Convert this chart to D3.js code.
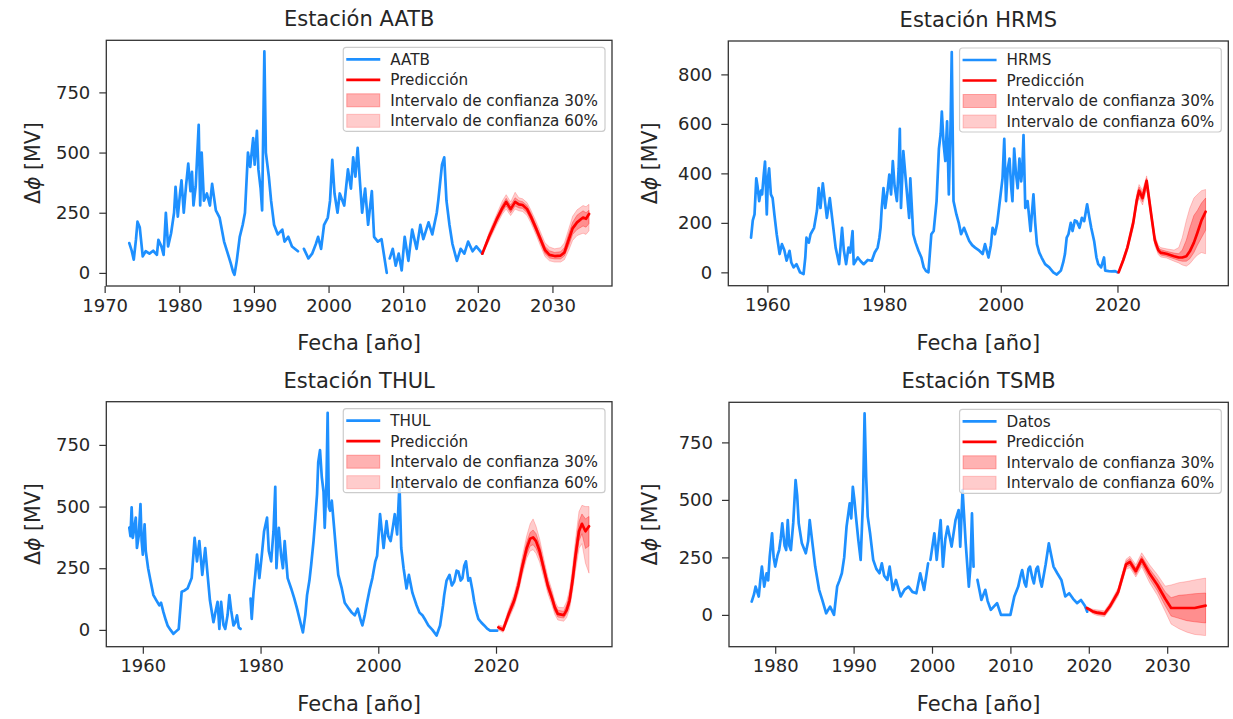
<!DOCTYPE html>
<html>
<head>
<meta charset="utf-8">
<script src="https://cdn.jsdelivr.net/npm/d3@7"></script>
<style>
  body { margin: 0; background: #fff; }
  svg { font-family: "DejaVu Sans", sans-serif; }
</style>
</head>
<body>
<svg id="chart" width="1233" height="719"></svg>
<script>
// observed series: [year, Δφ MV], null value = gap in the record
const aatbObs = [
  [1973.3,124],[1973.6,95],[1973.9,55],[1974.2,140],[1974.4,213],[1974.7,190],[1975.1,69],[1975.5,90],
  [1976.0,80],[1976.5,92],[1977.0,75],[1977.2,137],[1977.6,110],[1977.9,75],[1978.2,250],[1978.5,110],
  [1978.9,165],[1979.3,250],[1979.5,358],[1979.8,234],[1980.1,330],[1980.3,385],[1980.6,250],[1980.9,360],
  [1981.2,454],[1981.5,340],[1981.7,420],[1981.9,280],[1982.2,360],[1982.6,615],[1982.8,280],[1983.0,500],
  [1983.3,300],[1983.7,330],[1984.1,280],[1984.4,370],[1984.9,260],[1985.4,230],[1986.0,130],[1986.5,80],
  [1986.9,40],[1987.2,5],[1987.4,-8],[1987.7,50],[1988.1,150],[1988.5,200],[1988.8,250],[1989.2,500],
  [1989.5,440],[1989.9,560],[1990.1,450],[1990.4,590],[1990.6,430],[1990.9,350],[1991.1,260],[1991.3,700],
  [1991.4,920],[1991.6,500],[1992.0,400],[1992.3,300],[1992.7,200],[1993.2,160],[1993.8,180],[1994.1,130],
  [1994.6,150],[1995.1,110],[1995.9,90],[1996.3,null],[1996.7,100],[1997.0,80],[1997.3,60],[1997.8,80],
  [1998.3,120],[1998.6,150],[1999.0,100],[1999.4,200],[1999.9,230],[2000.2,300],[2000.5,470],[2000.8,330],
  [2001.2,250],[2001.5,330],[2002.1,280],[2002.6,430],[2003.0,350],[2003.3,480],[2003.6,400],[2003.9,520],
  [2004.2,380],[2004.5,250],[2004.9,350],[2005.3,200],[2005.8,340],[2006.1,150],[2006.6,130],[2007.1,140],
  [2007.5,60],[2007.8,0],[2008.0,null],[2008.2,60],[2008.6,100],[2009.0,30],[2009.4,80],[2009.8,10],
  [2010.2,150],[2010.7,50],[2011.2,180],[2011.8,100],[2012.3,200],[2012.7,140],[2013.4,210],[2013.9,160],
  [2014.5,250],[2014.7,300],[2015.2,450],[2015.5,480],[2015.8,300],[2016.2,200],[2016.6,120],[2017.2,50],
  [2017.7,100],[2018.2,80],[2018.7,130],[2019.3,90],[2019.8,110],[2020.6,80]
];
const hrmsObs = [
  [1957.2,140],[1957.5,210],[1957.8,234],[1958.1,380],[1958.3,350],[1958.6,288],[1958.9,330],[1959.1,315],
  [1959.4,400],[1959.6,448],[1959.9,234],[1960.1,380],[1960.3,420],[1960.6,315],[1960.9,300],[1961.2,234],
  [1961.6,154],[1962.1,74],[1962.5,114],[1962.9,90],[1963.3,47],[1963.8,87],[1964.1,40],[1964.5,20],
  [1965.0,33],[1965.6,0],[1966.2,-7],[1966.5,60],[1966.7,140],[1967.1,120],[1967.4,154],[1968.0,180],
  [1968.5,250],[1968.8,340],[1969.1,260],[1969.5,360],[1969.8,300],[1970.2,220],[1970.7,300],[1971.1,220],
  [1971.7,100],[1972.3,33],[1972.6,120],[1972.8,180],[1973.1,90],[1973.5,33],[1973.9,100],[1974.2,80],
  [1974.6,167],[1974.8,33],[1975.5,60],[1976.0,45],[1976.5,33],[1977.2,50],[1977.9,47],[1978.4,80],
  [1978.9,100],[1979.2,140],[1979.4,180],[1979.6,260],[1979.9,340],[1980.2,260],[1980.6,330],[1980.9,395],
  [1981.2,315],[1981.5,450],[1981.8,350],[1982.2,288],[1982.5,420],[1982.7,580],[1982.9,260],[1983.3,490],
  [1983.7,380],[1984.0,300],[1984.3,220],[1984.5,380],[1985.0,154],[1985.4,120],[1985.9,87],[1986.4,60],
  [1986.8,20],[1987.2,5],[1987.6,0],[1988.1,154],[1988.5,167],[1989.0,288],[1989.4,500],[1989.7,560],
  [1989.9,650],[1990.2,520],[1990.5,450],[1990.8,610],[1991.1,315],[1991.4,600],[1991.6,890],[1991.9,288],
  [1992.4,234],[1992.8,200],[1993.2,154],[1993.7,180],[1994.2,150],[1994.6,127],[1995.1,110],[1995.6,100],
  [1996.2,90],[1996.9,74],[1997.3,114],[1997.9,60],[1998.3,110],[1998.6,180],[1999.0,154],[1999.4,200],
  [1999.7,260],[2000.3,380],[2000.6,540],[2000.9,288],[2001.2,420],[2001.5,460],[2001.8,340],[2002.0,288],
  [2002.3,500],[2002.6,400],[2002.9,340],[2003.2,460],[2003.5,368],[2003.7,420],[2003.9,555],[2004.2,260],
  [2004.6,288],[2005.1,167],[2005.6,315],[2005.9,200],[2006.2,114],[2006.6,80],[2007.0,60],[2007.6,33],
  [2008.3,20],[2009.0,0],[2009.6,-9],[2010.3,7],[2010.7,40],[2011.0,74],[2011.3,140],[2011.6,154],
  [2012.0,200],[2012.3,167],[2012.7,210],[2013.0,207],[2013.5,180],[2013.9,220],[2014.3,207],[2014.8,275],
  [2015.2,220],[2015.5,180],[2016.0,127],[2016.4,60],[2016.7,33],[2017.2,20],[2017.7,60],[2017.9,7],
  [2018.5,5],[2019.0,4],[2019.6,5],[2020.0,0]
];
const thulObs = [
  [1957.7,415],[1957.9,380],[1958.1,497],[1958.3,373],[1958.6,420],[1958.8,455],[1959.0,332],[1959.3,380],
  [1959.6,510],[1959.8,360],[1960.0,305],[1960.3,428],[1960.5,320],[1960.9,250],[1961.3,200],[1961.8,141],
  [1962.3,120],[1962.8,100],[1963.1,110],[1963.5,72],[1963.9,40],[1964.2,18],[1964.7,0],[1965.2,-16],
  [1965.7,-5],[1966.1,4],[1966.6,155],[1967.1,160],[1967.6,168],[1968.3,210],[1968.8,373],[1969.2,278],
  [1969.6,360],[1970.1,223],[1970.6,332],[1970.9,250],[1971.4,120],[1972.0,31],[1972.4,80],[1972.7,114],
  [1973.0,4],[1973.3,114],[1973.7,20],[1974.0,4],[1974.4,60],[1974.7,141],[1975.0,80],[1975.4,18],
  [1975.7,30],[1976.0,59],[1976.3,10],[1976.6,4],[1977.5,null],[1978.3,127],[1978.5,45],[1978.8,150],
  [1979.1,223],[1979.4,305],[1979.8,210],[1980.2,300],[1980.6,400],[1981.1,455],[1981.4,320],[1981.8,278],
  [1982.2,400],[1982.5,580],[1982.7,250],[1983.1,414],[1983.5,300],[1983.8,250],[1984.1,360],[1984.6,210],
  [1985.2,168],[1985.7,130],[1986.2,86],[1986.9,18],[1987.2,-10],[1987.6,60],[1987.9,141],[1988.3,200],
  [1988.6,264],[1989.0,360],[1989.3,450],[1989.6,551],[1989.8,680],[1990.1,729],[1990.4,620],[1990.7,560],
  [1990.9,414],[1991.2,600],[1991.4,880],[1991.6,500],[1991.8,483],[1992.1,524],[1992.5,414],[1992.9,300],
  [1993.2,223],[1993.8,168],[1994.3,110],[1995.0,86],[1995.5,70],[1996.0,59],[1996.5,86],[1997.0,40],
  [1997.3,18],[1997.7,60],[1998.0,100],[1998.5,160],[1999.0,210],[1999.5,278],[1999.8,300],[2000.3,469],
  [2000.6,400],[2000.9,332],[2001.4,441],[2001.7,380],[2002.1,360],[2002.5,420],[2002.8,469],[2003.2,387],
  [2003.6,592],[2003.9,332],[2004.3,250],[2004.8,168],[2005.2,223],[2005.8,150],[2006.5,100],[2007.0,70],
  [2007.5,59],[2008.0,40],[2008.5,18],[2009.2,0],[2009.9,-23],[2010.5,18],[2011.0,100],[2011.2,141],
  [2011.6,200],[2012.1,223],[2012.5,180],[2012.9,196],[2013.3,240],[2013.6,237],[2014.0,200],[2014.3,210],
  [2014.6,260],[2014.9,278],[2015.3,200],[2015.6,210],[2016.0,160],[2016.3,114],[2016.7,70],[2017.0,45],
  [2017.5,30],[2018.0,18],[2018.5,5],[2019.0,-3],[2019.6,-3],[2020.2,-3]
];
const tsmbObs = [
  [1977.0,58],[1977.3,90],[1977.5,123],[1977.9,80],[1978.1,150],[1978.3,210],[1978.6,123],[1978.9,181],
  [1979.1,150],[1979.3,253],[1979.6,355],[1979.8,250],[1980.0,210],[1980.3,260],[1980.5,282],[1980.7,330],
  [1980.9,398],[1981.2,300],[1981.4,282],[1981.6,412],[1981.8,300],[1982.0,282],[1982.3,400],[1982.6,586],
  [1982.8,520],[1983.0,398],[1983.4,311],[1983.9,268],[1984.2,320],[1984.4,412],[1984.8,297],[1985.1,210],
  [1985.6,109],[1986.0,65],[1986.5,7],[1987.0,36],[1987.5,0],[1987.9,123],[1988.2,150],[1988.5,181],
  [1988.8,250],[1989.1,384],[1989.5,485],[1989.7,420],[1989.9,557],[1990.1,500],[1990.3,427],[1990.6,326],
  [1990.9,239],[1991.2,500],[1991.4,876],[1991.6,600],[1991.8,427],[1992.1,355],[1992.5,239],[1992.9,200],
  [1993.3,181],[1993.6,224],[1993.9,170],[1994.3,152],[1994.6,210],[1995.0,109],[1995.4,152],[1996.0,80],
  [1996.5,110],[1997.0,123],[1997.5,100],[1998.0,94],[1998.5,181],[1999.0,109],[1999.5,224],[1999.65,null],
  [1999.8,239],[2000.3,355],[2000.6,239],[2001.1,412],[2001.4,210],[2001.7,330],[2002.0,384],[2002.5,297],
  [2003.0,412],[2003.4,456],[2003.6,297],[2003.9,543],[2004.3,311],[2004.7,123],[2004.9,210],[2005.1,441],
  [2005.3,210],[2005.55,null],[2005.8,152],[2006.3,65],[2006.8,109],[2007.1,60],[2007.5,22],[2008.0,40],
  [2008.3,51],[2008.8,0],[2009.5,0],[2010.0,0],[2010.5,80],[2011.0,123],[2011.3,170],[2011.5,195],
  [2011.8,140],[2012.0,123],[2012.3,200],[2012.5,210],[2012.8,160],[2013.0,137],[2013.3,200],[2013.5,210],
  [2013.8,150],[2014.0,123],[2014.5,220],[2014.9,311],[2015.2,260],[2015.5,210],[2016.0,180],[2016.5,152],
  [2017.0,80],[2017.5,94],[2018.0,70],[2018.5,51],[2019.0,65],[2019.5,40],[2019.8,14]
];

// prediction: [year, mean, low30, high30, low60, high60]
const aatbPred = [
  [2020.6,80,78,82,75,85],[2021.5,150,140,160,132,168],[2022.5,220,208,232,198,242],
  [2023.3,270,255,285,245,300],[2023.8,295,278,310,265,325],[2024.4,265,250,282,238,295],
  [2025.0,295,278,312,265,335],[2025.5,285,270,300,258,312],[2026.0,282,268,296,255,308],
  [2026.6,265,250,280,238,292],[2027.1,235,220,250,208,262],[2027.8,185,170,200,158,215],
  [2028.4,140,125,155,112,170],[2029.0,95,80,110,68,125],[2029.6,75,62,92,50,108],
  [2030.3,70,58,85,45,100],[2031.1,72,58,88,45,105],[2031.6,85,70,105,55,125],
  [2032.2,140,115,165,95,185],[2032.7,185,160,210,135,235],[2033.3,210,180,240,155,262],
  [2034.1,230,195,258,165,280],[2034.5,225,190,250,160,275],[2034.9,245,205,260,175,285]
];
const hrmsPred = [
  [2020.2,0,-2,2,-4,5],[2021.0,50,44,56,38,62],[2021.7,100,92,108,85,115],
  [2022.7,200,188,212,178,222],[2023.3,290,275,305,265,318],[2023.7,330,312,345,300,355],
  [2024.3,300,285,320,272,332],[2025.0,370,350,380,335,390],[2025.4,300,285,315,272,328],
  [2025.8,230,215,245,205,258],[2026.4,130,118,142,108,152],[2027.0,90,80,100,72,110],
  [2027.4,80,70,92,62,100],[2028.4,75,65,85,58,95],[2029.7,65,55,78,45,90],
  [2030.5,60,48,75,38,100],[2031.1,60,45,90,30,140],[2031.8,65,45,130,25,210],
  [2032.4,85,55,180,35,260],[2033.1,120,80,230,55,300],[2033.7,160,110,250,70,315],
  [2034.4,210,140,280,80,330],[2035.1,245,170,300,75,335]
];
const thulPred = [
  [2020.4,10,5,15,0,20],[2021.2,0,-5,8,-10,15],[2022.1,60,50,72,40,82],
  [2023.1,120,105,135,95,148],[2023.8,180,165,200,150,215],[2024.4,250,230,272,215,290],
  [2025.2,330,305,355,290,380],[2025.8,370,340,395,320,430],[2026.3,375,345,405,325,450],
  [2026.8,360,330,390,310,420],[2027.4,320,295,345,275,370],[2028.1,250,230,270,212,290],
  [2028.8,180,162,200,148,215],[2029.5,130,115,148,100,162],[2030.0,90,75,105,62,118],
  [2030.5,65,52,80,40,92],[2031.5,60,48,75,35,90],[2032.0,80,65,100,50,115],
  [2032.5,120,100,145,85,165],[2033.0,200,175,230,155,255],[2033.5,300,265,335,240,365],
  [2034.1,400,360,440,330,480],[2034.6,430,390,470,350,505],[2035.2,400,330,450,270,500],
  [2035.8,420,340,460,230,500]
];
const tsmbPred = [
  [2019.75,30,28,32,26,34],[2020.5,15,10,20,5,25],[2021.0,10,4,16,-2,22],
  [2022.0,5,-2,12,-8,18],[2022.75,40,32,48,25,55],[2023.75,100,90,110,82,118],
  [2024.75,220,208,232,198,242],[2025.25,230,215,245,205,255],[2026.0,190,175,205,165,218],
  [2026.75,240,222,255,210,270],[2027.75,180,158,200,140,218],[2028.75,130,105,155,85,175],
  [2029.75,70,40,100,15,125],[2030.5,30,-5,75,-40,130],[2031.5,30,-15,85,-60,140],
  [2032.5,30,-25,88,-75,145],[2033.5,30,-30,92,-85,152],[2034.9,40,-35,95,-90,160]
];

const stations = ["AATB", "HRMS", "THUL", "TSMB"];
const dataLabels = ["AATB", "HRMS", "THUL", "Datos"];
const legendLabels = ["Predicción", "Intervalo de confianza 30%", "Intervalo de confianza 60%"];
const xTickSets = [
  [1970, 1980, 1990, 2000, 2010, 2020, 2030],
  [1960, 1980, 2000, 2020],
  [1960, 1980, 2000, 2020],
  [1980, 1990, 2000, 2010, 2020, 2030]
];
const yTickSets = [
  [0, 250, 500, 750],
  [0, 200, 400, 600, 800],
  [0, 250, 500, 750],
  [0, 250, 500, 750]
];

// layout (pixel frames of each axes box)
const frames = [
  { l: 106.3, t: 40.3, r: 612, b: 286, ylab: 32 },
  { l: 728.3, t: 41, r: 1228.3, b: 285.7, ylab: 649 },
  { l: 106.3, t: 401.7, r: 612, b: 646.7, ylab: 32 },
  { l: 729, t: 402.3, r: 1228.3, b: 646.7, ylab: 649 }
];
const obsSets = [aatbObs, hrmsObs, thulObs, tsmbObs];
const predSets = [aatbPred, hrmsPred, thulPred, tsmbPred];

const BLUE = "#1e90ff", RED = "#ff0000", TXT = "#262626";
const svg = d3.select("#chart");

function pad(ext) {
  const m = (ext[1] - ext[0]) * 0.05;
  return [ext[0] - m, ext[1] + m];
}

stations.forEach((st, i) => {
  const f = frames[i], obs = obsSets[i], pred = predSets[i];
  const w = f.r - f.l, h = f.b - f.t;

  const xs = obs.map(d => d[0]).concat(pred.map(d => d[0]));
  const ys = obs.filter(d => d[1] != null).map(d => d[1])
    .concat(pred.map(d => d[4]), pred.map(d => d[5]));
  const x = d3.scaleLinear().domain(pad(d3.extent(xs))).range([0, w]);
  const y = d3.scaleLinear().domain(pad(d3.extent(ys))).range([h, 0]);

  const g = svg.append("g").attr("transform", `translate(${f.l},${f.t})`);

  // observed line
  g.append("path")
    .datum(obs)
    .attr("d", d3.line().defined(d => d[1] != null).x(d => x(d[0])).y(d => y(d[1])))
    .attr("fill", "none").attr("stroke", BLUE).attr("stroke-width", 2.7)
    .attr("stroke-linejoin", "round").attr("stroke-linecap", "round");

  // confidence bands
  const band60 = d3.area().x(d => x(d[0])).y0(d => y(d[4])).y1(d => y(d[5]));
  const band30 = d3.area().x(d => x(d[0])).y0(d => y(d[2])).y1(d => y(d[3]));
  g.append("path").datum(pred).attr("d", band60)
    .attr("fill", RED).attr("fill-opacity", 0.2)
    .attr("stroke", RED).attr("stroke-opacity", 0.2).attr("stroke-width", 1);
  g.append("path").datum(pred).attr("d", band30)
    .attr("fill", RED).attr("fill-opacity", 0.3)
    .attr("stroke", RED).attr("stroke-opacity", 0.3).attr("stroke-width", 1);

  // prediction line
  g.append("path")
    .datum(pred)
    .attr("d", d3.line().x(d => x(d[0])).y(d => y(d[1])))
    .attr("fill", "none").attr("stroke", RED).attr("stroke-width", 2.7)
    .attr("stroke-linejoin", "round").attr("stroke-linecap", "round");

  // axes
  const xa = g.append("g").attr("transform", `translate(0,${h})`)
    .call(d3.axisBottom(x).tickValues(xTickSets[i]).tickFormat(d3.format("d")).tickSize(7).tickPadding(6));
  const ya = g.append("g")
    .call(d3.axisLeft(y).tickValues(yTickSets[i]).tickFormat(d3.format("d")).tickSize(7).tickPadding(9));
  [xa, ya].forEach(a => {
    a.select(".domain").remove();
    a.attr("font-family", null).attr("font-size", null);
    a.selectAll(".tick line").attr("stroke", "#333").attr("stroke-width", 1.2);
    a.selectAll(".tick text").attr("fill", TXT).style("font-size", "18px");
  });

  // frame
  g.append("rect").attr("width", w).attr("height", h)
    .attr("fill", "none").attr("stroke", "#333").attr("stroke-width", 1.3);

  // title and labels
  svg.append("text").attr("x", f.l + w / 2).attr("y", f.t - 14)
    .attr("text-anchor", "middle").attr("fill", TXT).style("font-size", "21px")
    .text("Estación " + st);
  svg.append("text").attr("x", f.l + w / 2).attr("y", f.b + 64)
    .attr("text-anchor", "middle").attr("fill", TXT).style("font-size", "21px")
    .text("Fecha [año]");
  const yl = svg.append("text")
    .attr("transform", `translate(${f.ylab + 7.5},${f.t + h / 2}) rotate(-90)`)
    .attr("text-anchor", "middle").attr("fill", TXT).style("font-size", "20.5px");
  yl.append("tspan").text("Δ");
  yl.append("tspan").style("font-style", "italic").text("ϕ");
  yl.append("tspan").text(" [MV]");

  // legend
  const names = [dataLabels[i]].concat(legendLabels);
  const lg = g.append("g");
  const box = lg.append("rect").attr("rx", 3).attr("ry", 3)
    .attr("fill", "#fff").attr("fill-opacity", 0.8)
    .attr("stroke", "#cccccc").attr("stroke-width", 1.2);
  const rowY = [10, 30.5, 51, 71.5];
  const texts = names.map((n, k) => lg.append("text")
    .attr("x", 46).attr("y", rowY[k]).attr("dy", "0.35em")
    .attr("fill", TXT).style("font-size", "15.2px").text(n));
  lg.append("line").attr("x1", 2).attr("x2", 36).attr("y1", rowY[0]).attr("y2", rowY[0])
    .attr("stroke", BLUE).attr("stroke-width", 2.7);
  lg.append("line").attr("x1", 2).attr("x2", 36).attr("y1", rowY[1]).attr("y2", rowY[1])
    .attr("stroke", RED).attr("stroke-width", 2.7);
  [0.3, 0.2].forEach((op, k) => {
    lg.append("rect").attr("x", 2.5).attr("y", rowY[k + 2] - 6.5).attr("width", 33).attr("height", 13)
      .attr("fill", RED).attr("fill-opacity", op)
      .attr("stroke", RED).attr("stroke-opacity", op).attr("stroke-width", 1);
  });
  const tw = d3.max(texts, t => t.node().getComputedTextLength());
  const bw = 46 + tw + 7, bh = 84;
  box.attr("x", -1).attr("y", -2).attr("width", bw + 1).attr("height", bh);
  lg.attr("transform", `translate(${w - 7 - bw},${9})`);
});
</script>
</body>
</html>
